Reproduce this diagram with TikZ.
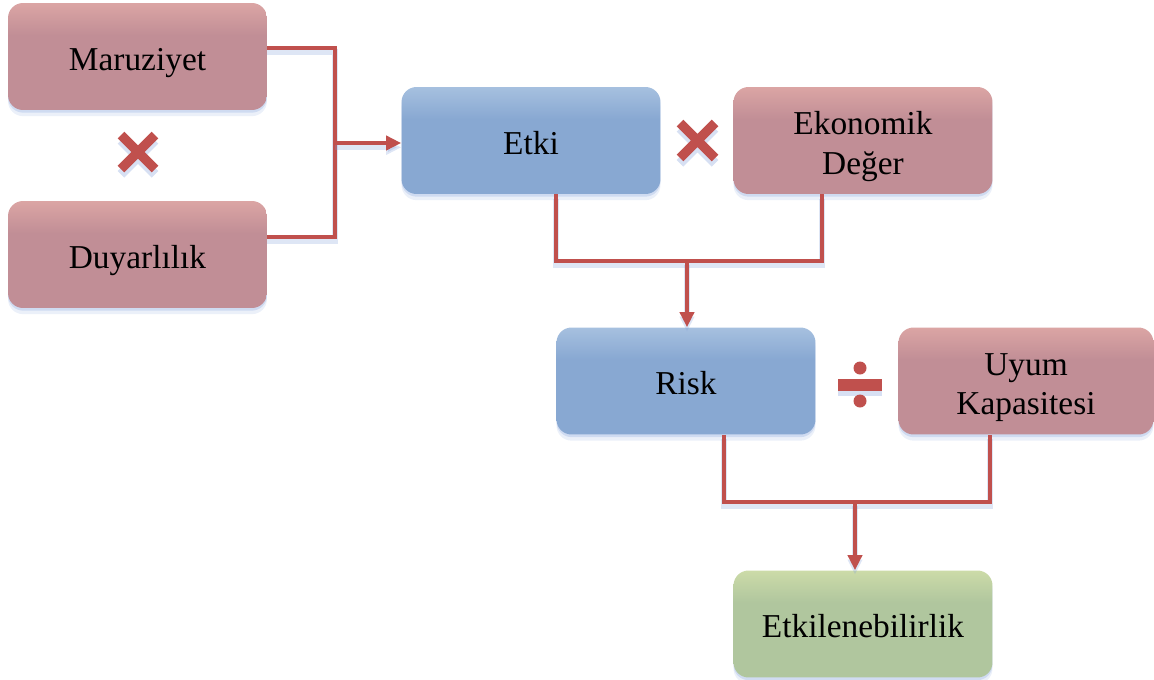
\documentclass[tikz,border=0pt]{standalone}
\usepackage{fontspec}
\setmainfont{Liberation Serif}
\usetikzlibrary{shadows,calc,arrows.meta}
\definecolor{pinkbox}{HTML}{C18E96}
\definecolor{pinktop}{HTML}{DBA5A4}
\definecolor{bluebox}{HTML}{88A8D2}
\definecolor{bluetop}{HTML}{A6C0DF}
\definecolor{greenbox}{HTML}{B0C69E}
\definecolor{greentop}{HTML}{CCDBA8}
\definecolor{linered}{HTML}{C0504D}
\definecolor{glowblue}{HTML}{7A9AD8}
\pgfdeclareverticalshading{pinkshade}{100bp}{color(0bp)=(pinkbox); color(60bp)=(pinkbox); color(75bp)=(pinktop); color(100bp)=(pinktop)}
\pgfdeclareverticalshading{blueshade}{100bp}{color(0bp)=(bluebox); color(60bp)=(bluebox); color(75bp)=(bluetop); color(100bp)=(bluetop)}
\pgfdeclareverticalshading{greenshade}{100bp}{color(0bp)=(greenbox); color(60bp)=(greenbox); color(75bp)=(greentop); color(100bp)=(greentop)}
\newcommand{\lowtext}[1]{\raisebox{-0.12cm}[\height][\depth]{\begin{tabular}{@{}c@{}}#1\end{tabular}}}
\begin{document}
\begin{tikzpicture}[x=0.02cm,y=-0.02cm,
  glow/.style={general shadow={shadow yshift=-1.5pt, fill=glowblue, opacity=0.25},
               general shadow={shadow yshift=-3.5pt, fill=glowblue, opacity=0.15}},
  box/.style={rounded corners=0.3cm, minimum width=5.18cm, minimum height=2.14cm,
              inner sep=0pt, font=\fontsize{19}{22.5}\selectfont, glow},
  pinkb/.style={box, shading=pinkshade},
  blueb/.style={box, shading=blueshade},
  greenb/.style={box, shading=greenshade},
  conn/.style={draw=linered, line width=0.08cm,
               preaction={draw=glowblue, opacity=0.25, line width=0.12cm, transform canvas={yshift=-2.5pt}}},
  arr/.style={conn, -{Triangle[length=0.3cm,width=0.28cm]}},
  sym/.style={draw=linered, line width=0.19cm}
]
\useasboundingbox (0,0) rectangle (1154,680);

\node[pinkb] (mar) at (137.5,56.5) {\lowtext{Maruziyet}};
\node[pinkb] (duy) at (137.5,254.5) {\lowtext{Duyarlılık}};
\node[blueb] (etki) at (531,140.5) {\lowtext{Etki}};
\node[pinkb] (eko) at (863,140.5) {\lowtext{Ekonomik\\Değer}};
\node[blueb] (risk) at (686,381) {\lowtext{Risk}};
\node[pinkb, minimum width=5.1cm] (uyum) at (1026,381) {\lowtext{Uyum\\Kapasitesi}};
\node[greenb] (etk) at (863,624) {\lowtext{Etkilenebilirlik}};

% junctions
\coordinate (j1) at (335,143);
\coordinate (j2) at (687,261);
\coordinate (j3) at (855,502);

\draw[conn] ($(mar.east)+(0,-8.5)$) -| (j1);
\draw[conn] ($(duy.east)+(0,-18)$) -| (j1);
\draw[arr] (j1) -- (etki.west |- j1);

\draw[conn] ($(etki.south)+(25,0)$) |- (j2) -| ($(eko.south)+(-41,0)$);
\draw[arr] (j2) -- (risk.north -| j2);

\draw[conn] ($(risk.south)+(38,0)$) |- (j3) -| ($(uyum.south)+(-36,0)$);
\draw[arr] (j3) -- (etk.north -| j3);

% shadows of the operator signs
\begin{scope}[transform canvas={yshift=-3pt}]
  \draw[sym, draw=glowblue, opacity=0.3] (121,135) -- (155,169) (155,135) -- (121,169);
  \draw[sym, draw=glowblue, opacity=0.3] (680,123) -- (715,158) (715,123) -- (680,158);
  \fill[glowblue, opacity=0.3] (838,379) rectangle (882,391);
\end{scope}
% multiplication signs
\draw[sym] (121,135) -- (155,169) (155,135) -- (121,169);
\draw[sym] (680,123) -- (715,158) (715,123) -- (680,158);

% division sign
\fill[linered] (838,379) rectangle (882,391);
\fill[linered] (860,368) circle[radius=0.13cm];
\fill[linered] (860,401) circle[radius=0.13cm];
\end{tikzpicture}
\end{document}
